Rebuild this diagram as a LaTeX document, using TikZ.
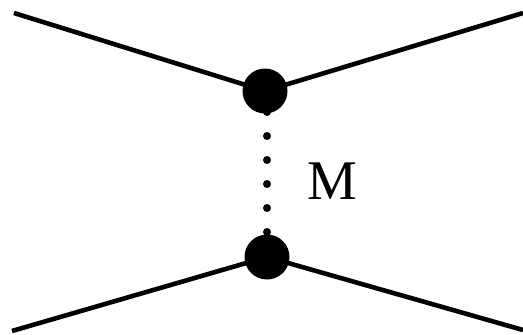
\documentclass[tikz,border=0pt]{standalone}
\usepackage{fontspec}
\setmainfont{Liberation Serif}
\usetikzlibrary{positioning}
\begin{document}
\begin{tikzpicture}[x=1pt,y=-1pt,
  vertex/.style={circle, fill=black, inner sep=0pt, minimum size=45pt},
  leg/.style={draw=black, line width=4.6pt},
  exchange/.style={draw=black, line width=8pt, line cap=round, dash pattern=on 0pt off 24pt}
]
\useasboundingbox (0,0) rectangle (523,335);
\coordinate (topleft) at (14,13);
\coordinate (topright) at (523,13);
\coordinate (botleft) at (12,331);
\coordinate (botright) at (523,330);
\node[vertex] (top) at (265,91) {};
\node[vertex] (bottom) at (267,257) {};
\coordinate (firstdot) at (267,112);
\coordinate (lastdot) at (267,232);
\draw[leg] (topleft) -- (top.center);
\draw[leg] (topright) -- (top.center);
\draw[leg] (botleft) -- (bottom.center);
\draw[leg] (botright) -- (bottom.center);
\draw[exchange] (firstdot) -- (lastdot);
\node[font=\fontsize{56}{64}\selectfont, inner sep=0pt] (mass) at (332,181.5) {M};
\end{tikzpicture}
\end{document}
